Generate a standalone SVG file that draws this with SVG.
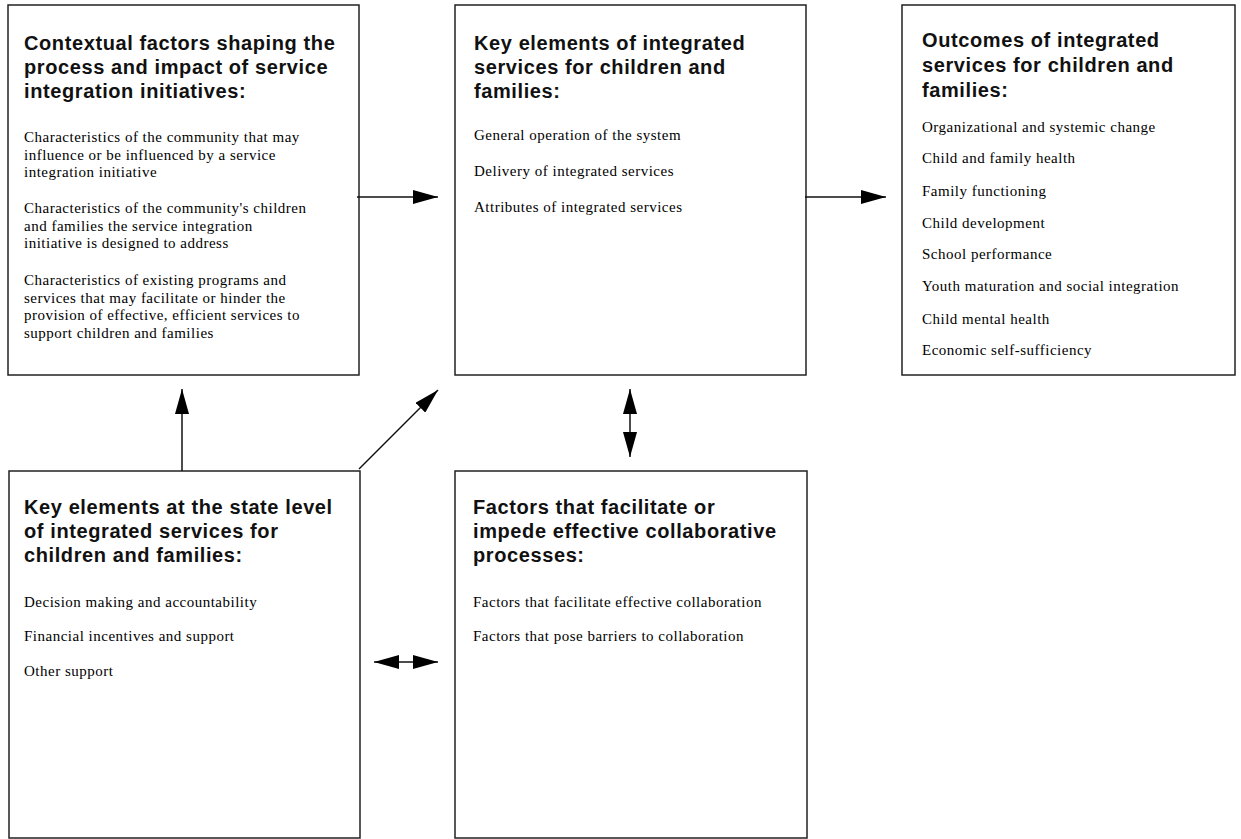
<svg xmlns="http://www.w3.org/2000/svg" width="1241" height="839" viewBox="0 0 1241 839">
<defs>
<style>
.box{fill:#fff;stroke:#222;stroke-width:1.5}
.t{font-family:"Liberation Sans",Arial,sans-serif;font-weight:bold;font-size:20px;letter-spacing:0.6px;fill:#111}
.b{font-family:"Liberation Serif","Times New Roman",serif;font-size:15px;letter-spacing:0.5px;fill:#000}
.c{stroke:#111;stroke-width:1.5;fill:none}
</style>
<marker id="ah" viewBox="0 0 25 14" refX="25" refY="7" markerWidth="25" markerHeight="14" markerUnits="userSpaceOnUse" orient="auto-start-reverse">
<path d="M0,0 L25,7 L0,14 Z" fill="#000"/>
</marker>
</defs>
<rect width="1241" height="839" fill="#fff"/>

<g id="contextual">
<rect class="box" x="8" y="5" width="351" height="370"/>
<text class="t" x="24" y="50">Contextual factors shaping the</text>
<text class="t" x="24" y="74">process and impact of service</text>
<text class="t" x="24" y="98">integration initiatives:</text>
<text class="b" x="24" y="142">Characteristics of the community that may</text>
<text class="b" x="24" y="160">influence or be influenced by a service</text>
<text class="b" x="24" y="177">integration initiative</text>
<text class="b" x="24" y="213">Characteristics of the community's children</text>
<text class="b" x="24" y="231">and families the service integration</text>
<text class="b" x="24" y="248">initiative is designed to address</text>
<text class="b" x="24" y="285">Characteristics of existing programs and</text>
<text class="b" x="24" y="303">services that may facilitate or hinder the</text>
<text class="b" x="24" y="320">provision of effective, efficient services to</text>
<text class="b" x="24" y="338">support children and families</text>
</g>

<g id="key-elements">
<rect class="box" x="455" y="5" width="351" height="370"/>
<text class="t" x="474" y="50">Key elements of integrated</text>
<text class="t" x="474" y="74">services for children and</text>
<text class="t" x="474" y="98">families:</text>
<text class="b" x="474" y="140">General operation of the system</text>
<text class="b" x="474" y="176">Delivery of integrated services</text>
<text class="b" x="474" y="212">Attributes of integrated services</text>
</g>

<g id="outcomes">
<rect class="box" x="902" y="5" width="333" height="370"/>
<text class="t" x="922" y="47">Outcomes of integrated</text>
<text class="t" x="922" y="72">services for children and</text>
<text class="t" x="922" y="97">families:</text>
<text class="b" x="922" y="132">Organizational and systemic change</text>
<text class="b" x="922" y="163">Child and family health</text>
<text class="b" x="922" y="196">Family functioning</text>
<text class="b" x="922" y="228">Child development</text>
<text class="b" x="922" y="259">School performance</text>
<text class="b" x="922" y="291">Youth maturation and social integration</text>
<text class="b" x="922" y="324">Child mental health</text>
<text class="b" x="922" y="355">Economic self-sufficiency</text>
</g>

<g id="state-level">
<rect class="box" x="9" y="471" width="351" height="367"/>
<text class="t" x="24" y="514">Key elements at the state level</text>
<text class="t" x="24" y="538">of integrated services for</text>
<text class="t" x="24" y="562">children and families:</text>
<text class="b" x="24" y="607">Decision making and accountability</text>
<text class="b" x="24" y="641">Financial incentives and support</text>
<text class="b" x="24" y="676">Other support</text>
</g>

<g id="factors">
<rect class="box" x="455" y="471" width="352" height="367"/>
<text class="t" x="473" y="514">Factors that facilitate or</text>
<text class="t" x="473" y="538">impede effective collaborative</text>
<text class="t" x="473" y="562">processes:</text>
<text class="b" x="473" y="607">Factors that facilitate effective collaboration</text>
<text class="b" x="473" y="641">Factors that pose barriers to collaboration</text>
</g>

<g id="connectors">
<line class="c" x1="357" y1="197" x2="438" y2="197" marker-end="url(#ah)"/>
<line class="c" x1="805" y1="197" x2="886" y2="197" marker-end="url(#ah)"/>
<line class="c" x1="182" y1="471" x2="182" y2="389" marker-end="url(#ah)"/>
<line class="c" x1="359" y1="469" x2="438" y2="390" marker-end="url(#ah)"/>
<line class="c" x1="374" y1="662" x2="438" y2="662" marker-start="url(#ah)" marker-end="url(#ah)"/>
<line class="c" x1="630" y1="389" x2="630" y2="457" marker-start="url(#ah)" marker-end="url(#ah)"/>
</g>
</svg>
